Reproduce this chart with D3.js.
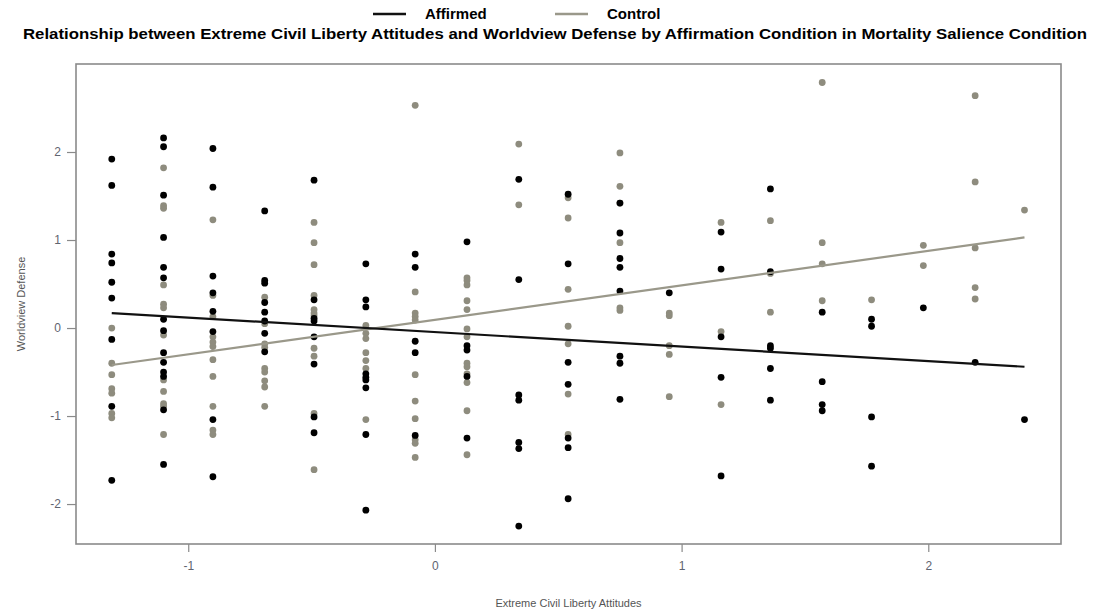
<!DOCTYPE html>
<html>
<head>
<meta charset="utf-8">
<script src="https://cdn.jsdelivr.net/npm/d3@7"></script>
<style>
  body { margin: 0; background: #fff; }
  text { font-family: "Liberation Sans", Arial, sans-serif; }
</style>
</head>
<body>
<div id="my_dataviz"></div>
<script>
// x levels of the attitude scale (standardized)
var xLevels = [-1.31, -1.10, -0.90, -0.69, -0.49, -0.28, -0.08, 0.13, 0.34, 0.54,
               0.75, 0.95, 1.16, 1.36, 1.57, 1.77, 1.98, 2.19, 2.39];

// worldview defense values per x level
var affirmedY = [
  [1.92, 1.62, 0.84, 0.74, 0.52, 0.34, -0.13, -0.89, -1.73],
  [2.16, 2.06, 1.51, 1.03, 0.69, 0.57, 0.10, -0.03, -0.28, -0.39, -0.50, -0.55, -0.93, -1.55],
  [2.04, 1.60, 0.59, 0.40, 0.19, -0.04, -1.04, -1.69],
  [1.33, 0.54, 0.51, 0.29, 0.18, 0.08, -0.06, -0.27],
  [1.68, 0.32, 0.11, 0.08, -0.10, -0.41, -1.01, -1.19],
  [0.73, 0.32, 0.24, -0.52, -0.56, -0.59, -0.68, -1.21, -2.07],
  [0.84, 0.69, -0.15, -0.28, -1.22],
  [0.98, -0.20, -0.25, -0.55, -1.25],
  [1.69, 0.55, -0.76, -0.82, -1.30, -1.37, -2.25],
  [1.52, 0.73, -0.39, -0.64, -1.25, -1.36, -1.94],
  [1.42, 1.08, 0.79, 0.69, 0.42, -0.32, -0.40, -0.81],
  [0.40],
  [1.09, 0.67, -0.10, -0.56, -1.68],
  [1.58, 0.64, -0.20, -0.23, -0.46, -0.82],
  [0.18, -0.61, -0.87, -0.94],
  [0.10, 0.02, -1.01, -1.57],
  [0.23],
  [-0.39],
  [-1.04]
];

var controlY = [
  [0.00, -0.40, -0.53, -0.69, -0.74, -0.97, -1.02],
  [1.82, 1.39, 1.36, 0.49, 0.27, 0.23, -0.08, -0.59, -0.72, -0.86, -0.89, -1.21],
  [1.23, 0.37, 0.13, -0.10, -0.16, -0.21, -0.36, -0.55, -0.89, -1.16, -1.21],
  [0.35, 0.05, -0.18, -0.22, -0.46, -0.50, -0.60, -0.67, -0.89],
  [1.20, 0.97, 0.72, 0.37, 0.21, 0.17, 0.14, -0.23, -0.32, -0.97, -1.61],
  [0.03, -0.06, -0.12, -0.28, -0.37, -0.46, -1.04],
  [2.53, 0.41, 0.17, 0.13, 0.09, -0.53, -0.83, -1.03, -1.27, -1.31, -1.47],
  [0.57, 0.54, 0.49, 0.31, 0.21, -0.01, -0.10, -0.40, -0.44, -0.52, -0.62, -0.94, -1.44],
  [2.09, 1.40],
  [1.48, 1.25, 0.44, 0.02, -0.18, -0.75, -1.21],
  [1.99, 1.61, 1.42, 0.97, 0.23, 0.20],
  [0.17, 0.14, -0.20, -0.30, -0.78],
  [1.20, -0.04, -0.87],
  [1.22, 0.62, 0.18],
  [2.79, 0.97, 0.73, 0.31],
  [0.32],
  [0.94, 0.71],
  [2.64, 1.66, 0.91, 0.46, 0.33],
  [1.34]
];

// fitted regression lines (end points)
var affirmedFit = [[-1.31, 0.17], [2.39, -0.44]];
var controlFit = [[-1.31, -0.42], [2.39, 1.03]];

var xTicks = [-1, 0, 1, 2];
var yTicks = [-2, -1, 0, 1, 2];

var seriesNames = ["Affirmed", "Control"];
var seriesColors = ["#000000", "#8e8c7e"];

// set the dimensions and margins of the graph
var margin = {top: 64, right: 33, bottom: 68, left: 76},
    width = 1094 - margin.left - margin.right,
    height = 612 - margin.top - margin.bottom;

var svgRoot = d3.select("#my_dataviz")
  .append("svg")
  .attr("width", 1094)
  .attr("height", 612);

var svg = svgRoot.append("g")
  .attr("transform", "translate(" + margin.left + "," + margin.top + ")");

var x = d3.scaleLinear().domain([-1.455, 2.538]).range([0, width]);
var y = d3.scaleLinear().domain([-2.454, 3.0]).range([height, 0]);

// flatten the point lists
function toPoints(byLevel) {
  var out = [];
  byLevel.forEach(function(vals, i) {
    vals.forEach(function(v) { out.push([xLevels[i], v]); });
  });
  return out;
}

// control points first, affirmed on top
svg.append("g").selectAll("circle")
  .data(toPoints(controlY))
  .enter().append("circle")
    .attr("cx", function(d) { return x(d[0]); })
    .attr("cy", function(d) { return y(d[1]); })
    .attr("r", 3.4)
    .attr("fill", seriesColors[1]);

svg.append("g").selectAll("circle")
  .data(toPoints(affirmedY))
  .enter().append("circle")
    .attr("cx", function(d) { return x(d[0]); })
    .attr("cy", function(d) { return y(d[1]); })
    .attr("r", 3.4)
    .attr("fill", seriesColors[0]);

// regression lines
var line = d3.line()
  .x(function(d) { return x(d[0]); })
  .y(function(d) { return y(d[1]); });

svg.append("path")
  .datum(controlFit)
  .attr("d", line)
  .attr("fill", "none")
  .attr("stroke", "#9a988a")
  .attr("stroke-width", 2.2);

svg.append("path")
  .datum(affirmedFit)
  .attr("d", line)
  .attr("fill", "none")
  .attr("stroke", "#111")
  .attr("stroke-width", 2.2);

// box
svg.append("rect")
  .attr("x", 0).attr("y", 0)
  .attr("width", width).attr("height", height)
  .attr("fill", "none")
  .attr("stroke", "#8a8a8a")
  .attr("stroke-width", 1.6);

// axes (plain hyphen for negatives, like the original)
var fmt = function(d) { return String(d); };
var xAxis = svg.append("g")
  .attr("transform", "translate(0," + height + ")")
  .call(d3.axisBottom(x).tickValues(xTicks).tickSize(8).tickPadding(9).tickFormat(fmt));
var yAxis = svg.append("g")
  .call(d3.axisLeft(y).tickValues(yTicks).tickSize(9).tickPadding(6).tickFormat(fmt));

[xAxis, yAxis].forEach(function(a) {
  a.select(".domain").remove();
  a.selectAll("line").attr("stroke", "#8a8a8a").attr("stroke-width", 1.2);
  a.selectAll("text")
    .attr("fill", "#5f6470")
    .style("font-size", "12px")
    .style("font-family", "'Liberation Sans', Arial, sans-serif");
});

// axis titles
svg.append("text")
  .attr("x", width / 2)
  .attr("y", height + 63)
  .attr("text-anchor", "middle")
  .attr("fill", "#555")
  .style("font-size", "11px")
  .text("Extreme Civil Liberty Attitudes");

svgRoot.append("text")
  .attr("transform", "translate(25," + (margin.top + height / 2) + ") rotate(-90)")
  .attr("text-anchor", "middle")
  .attr("fill", "#555")
  .style("font-size", "11px")
  .text("Worldview Defense");

// title
svgRoot.append("text")
  .attr("x", 555)
  .attr("y", 39)
  .attr("text-anchor", "middle")
  .attr("textLength", 1064)
  .attr("lengthAdjust", "spacingAndGlyphs")
  .style("font-size", "15px")
  .style("font-weight", "bold")
  .attr("fill", "#000")
  .text("Relationship between Extreme Civil Liberty Attitudes and Worldview Defense by Affirmation Condition in Mortality Salience Condition");

// legend
var legendX = [373, 555];
var legend = svgRoot.selectAll(".legend")
  .data(seriesNames)
  .enter().append("g")
    .attr("class", "legend")
    .attr("transform", function(d, i) { return "translate(" + legendX[i] + ",14)"; });

legend.append("line")
  .attr("x1", 0).attr("x2", 33)
  .attr("y1", 0).attr("y2", 0)
  .attr("stroke", function(d, i) { return i == 0 ? "#111" : "#9a988a"; })
  .attr("stroke-width", 2.4);

legend.append("text")
  .attr("x", 52)
  .attr("y", 5)
  .style("font-size", "15px")
  .style("font-weight", "bold")
  .attr("fill", "#000")
  .text(function(d) { return d; });
</script>
</body>
</html>
